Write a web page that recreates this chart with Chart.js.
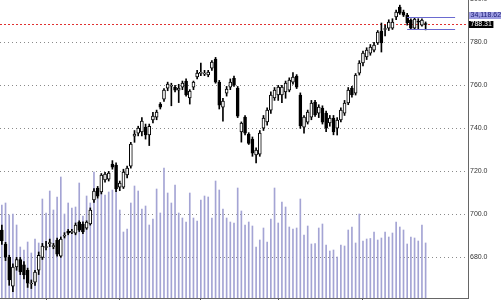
<!DOCTYPE html>
<html>
<head>
<meta charset="utf-8">
<script src="https://cdn.jsdelivr.net/npm/chart.js@4.4.1/dist/chart.umd.min.js"></script>
<style>
    html, body { margin: 0; padding: 0; background: #fff; }
    #wrap { width: 501px; height: 300px; position: relative; }
</style>
</head>
<body>
<div id="wrap"><canvas id="chart"></canvas></div>
<script>
    // ── Dados (OHLC diário + volume) ──
    const opens = [
        692.7, 686.2, 680.0, 666.6, 675.5, 679.0, 676.5, 674.0, 667.6, 668.5,
        674.0, 680.0, 684.6, 686.4, 685.0, 688.0, 680.6, 689.8, 692.2, 691.6,
        691.3, 696.4, 695.5, 693.6, 695.5, 706.7, 712.2, 710.4, 716.0, 716.4,
        723.4, 722.9, 712.7, 712.7, 718.3, 722.4, 736.4, 737.8, 738.3, 740.6,
        736.9, 743.9, 745.2, 751.3, 753.6, 758.7, 759.6, 759.2, 757.8, 759.2,
        762.0, 754.1, 759.2, 763.9, 765.6, 765.2, 764.8, 768.0, 772.2, 761.5,
        749.9, 756.4, 759.2, 763.3, 758.7, 738.4, 745.2, 737.3, 735.0, 727.6,
        728.0, 740.1, 743.0, 748.5, 754.1, 755.5, 755.5, 756.9, 757.8, 761.5,
        764.3, 755.5, 740.6, 742.9, 745.2, 752.2, 747.1, 749.4, 747.1, 742.5,
        744.8, 740.1, 743.9, 747.1, 751.8, 758.7, 756.4, 765.7, 770.4, 773.2,
        775.0, 776.4, 779.7, 785.3, 786.0, 786.6, 786.6, 791.8, 796.4, 794.1,
        792.7, 790.4, 786.6, 789.6, 788.0, 788.5
    ];
    const highs = [
        695.0, 687.0, 681.0, 677.0, 680.0, 680.0, 678.0, 675.0, 669.5, 674.0,
        682.5, 686.5, 687.5, 688.5, 686.5, 689.0, 689.5, 691.5, 693.0, 693.0,
        696.0, 697.0, 696.5, 697.0, 703.0, 712.0, 713.0, 719.0, 719.5, 720.0,
        725.0, 724.0, 715.5, 721.0, 722.5, 733.5, 739.0, 741.0, 745.0, 742.0,
        742.0, 747.5, 748.5, 752.0, 758.5, 761.5, 761.0, 760.0, 760.5, 762.0,
        763.0, 758.0, 762.0, 767.0, 770.4, 767.0, 767.0, 771.5, 773.0, 762.3,
        754.0, 759.5, 763.0, 764.3, 759.5, 743.0, 746.0, 738.0, 736.0, 731.0,
        739.0, 746.0, 749.5, 757.0, 759.0, 760.0, 760.0, 762.0, 763.5, 766.0,
        765.0, 756.5, 746.0, 748.5, 753.0, 753.0, 751.0, 750.5, 748.0, 746.0,
        746.0, 745.0, 749.5, 753.0, 759.0, 759.5, 765.5, 771.5, 776.0, 777.5,
        779.0, 780.0, 785.5, 789.0, 788.0, 790.5, 791.0, 795.0, 797.3, 795.0,
        793.5, 791.0, 791.5, 791.0, 791.0, 789.5
    ];
    const lows = [
        686.0, 678.5, 667.0, 664.0, 674.0, 672.0, 670.0, 666.0, 665.5, 667.0,
        672.0, 679.0, 683.5, 685.0, 684.0, 680.5, 680.0, 689.0, 690.5, 691.0,
        690.5, 692.0, 691.0, 693.0, 695.0, 705.5, 707.5, 709.5, 715.0, 715.5,
        721.0, 710.5, 711.0, 712.0, 717.0, 721.5, 733.5, 736.5, 736.5, 735.0,
        732.0, 742.5, 744.0, 749.0, 752.5, 757.5, 750.5, 757.0, 752.0, 758.0,
        755.0, 751.3, 758.0, 763.0, 764.5, 764.5, 764.0, 767.0, 761.0, 749.0,
        743.3, 755.0, 758.0, 759.5, 745.0, 733.6, 737.0, 732.5, 727.0, 723.9,
        727.0, 739.0, 741.5, 747.0, 753.0, 753.0, 752.0, 754.0, 757.0, 760.5,
        758.5, 740.0, 737.8, 742.0, 744.0, 745.5, 745.0, 742.0, 738.5, 741.0,
        737.0, 736.9, 743.0, 746.0, 751.0, 754.5, 755.5, 764.8, 769.0, 772.0,
        774.0, 775.5, 779.0, 775.5, 783.0, 785.5, 786.0, 790.5, 793.0, 792.0,
        788.0, 786.0, 786.0, 786.3, 787.5, 785.8
    ];
    const closes = [
        687.6, 680.1, 669.5, 675.5, 679.0, 673.2, 671.8, 668.0, 667.8, 673.2,
        681.0, 685.2, 684.9, 686.6, 685.3, 681.5, 688.5, 690.0, 691.3, 691.9,
        695.0, 692.7, 691.8, 696.4, 702.0, 710.8, 708.5, 718.3, 718.7, 719.2,
        722.0, 711.8, 714.5, 719.7, 721.5, 732.7, 737.3, 740.1, 743.4, 736.9,
        741.0, 745.7, 747.6, 749.9, 757.8, 760.6, 759.8, 757.8, 758.7, 761.1,
        755.5, 757.3, 761.5, 765.7, 765.8, 765.7, 766.2, 770.8, 761.5, 750.8,
        752.7, 758.3, 761.5, 760.1, 745.7, 742.5, 737.8, 733.0, 728.5, 729.9,
        737.8, 744.8, 748.5, 755.5, 757.8, 759.2, 759.2, 761.1, 762.5, 763.9,
        759.2, 741.1, 745.2, 747.6, 751.8, 746.2, 749.9, 742.9, 740.1, 744.8,
        738.3, 743.9, 748.5, 751.8, 757.8, 755.5, 764.8, 770.4, 775.0, 776.4,
        777.8, 778.7, 784.8, 779.7, 786.3, 789.4, 789.4, 794.1, 793.6, 792.7,
        789.0, 786.6, 790.8, 789.4, 790.4, 788.31
    ];
    const volumes = [
        57660, 58900, 51460, 52100, 45260, 31620, 29760, 34720, 27900, 36580,
        34100, 61380, 52700, 66340, 54560, 62620, 75020, 52080, 58900, 55800,
        56420, 71300, 50840, 63240, 58900, 78120, 61380, 73160, 63860, 65720,
        66960, 78120, 54560, 40920, 42780, 58900, 69440, 66340, 55180, 57040,
        45260, 48980, 67580, 52700, 80600, 65100, 58900, 70060, 52700, 49600,
        47120, 65100, 49600, 47740, 60760, 63240, 62620, 49600, 72540, 66960,
        55180, 49600, 47120, 46500, 68200, 53940, 45260, 47120, 44640, 31620,
        35960, 43400, 34720, 48980, 68200, 46500, 59520, 56420, 44020, 42780,
        43400, 61380, 39060, 44640, 33480, 33800, 43400, 45880, 32860, 29140,
        29760, 25420, 32860, 32240, 42160, 44020, 34100, 52080, 35340, 36580,
        36900, 40920, 35960, 37200, 40920, 37820, 40300, 47120, 44020, 42160,
        33480, 37820, 37200, 35340, 45260, 34118.62
    ];
    const priceTicks = [680, 700, 720, 740, 760, 780, 800];
    const monthTicks = [12, 32, 54, 75, 98];   // início de cada mês
    const totalSlots = 127;                    // pregões + espaço vazio à direita
    const calloutHigh = 791.6;
    const calloutLow = 786.0;
    const calloutFrom = 110;
    const calloutTo = 123;

    const labels = [];
    for (let i = 0; i < totalSlots; i++) labels.push('D' + (i + 1));

    const bodies = opens.map((o, i) => [o, closes[i]]);
    const wicks = lows.map((l, i) => [l, highs[i]]);
    const bodyColors = opens.map((o, i) => closes[i] < o ? '#000000' : '#ffffff');

    const lastClose = closes[closes.length - 1];
    const lastVolume = volumes[volumes.length - 1];

    // ── Linhas e etiquetas da direita ──
    const overlay = {
        id: 'overlay',
        beforeDatasetsDraw(chart) {
            const { ctx, chartArea, scales: { y } } = chart;
            const py = Math.round(y.getPixelForValue(lastClose)) + 0.5;
            ctx.save();
            ctx.strokeStyle = '#e03030';
            ctx.lineWidth = 1;
            ctx.setLineDash([2, 2]);
            ctx.beginPath();
            ctx.moveTo(chartArea.left, py);
            ctx.lineTo(chartArea.right - 2, py);
            ctx.stroke();
            ctx.restore();
        },
        afterDatasetsDraw(chart) {
            const { ctx, scales: { x, y } } = chart;
            const x1 = x.getPixelForValue(calloutFrom);
            const x2 = x.getPixelForValue(calloutTo);
            ctx.save();
            ctx.strokeStyle = '#6a6ad0';
            ctx.lineWidth = 1;
            [calloutHigh, calloutLow].forEach(v => {
                const py = Math.round(y.getPixelForValue(v)) + 0.5;
                ctx.beginPath();
                ctx.moveTo(x1, py);
                ctx.lineTo(x2, py);
                ctx.stroke();
            });
            ctx.restore();
        },
        afterDraw(chart) {
            const { ctx, chartArea, scales: { y } } = chart;
            const left = chartArea.right + 1;
            const cy = Math.round(y.getPixelForValue(lastClose));
            ctx.save();
            ctx.font = '7px "Liberation Sans", Arial, sans-serif';
            ctx.textBaseline = 'middle';

            const volText = lastVolume.toLocaleString('en-US', { minimumFractionDigits: 2 });
            const vw = ctx.measureText(volText).width + 3;
            ctx.fillStyle = '#9c9ce0';
            ctx.fillRect(left, cy - 12, vw, 7);
            ctx.fillStyle = '#20207a';
            ctx.fillText(volText, left + 1.5, cy - 8.5);

            const pText = lastClose.toFixed(2);
            const pw = ctx.measureText(pText).width + 3;
            ctx.fillStyle = '#000';
            ctx.fillRect(left, cy - 3, pw, 7);
            ctx.fillStyle = '#fff';
            ctx.fillText(pText, left + 1.5, cy + 0.5);
            ctx.restore();
        }
    };

    new Chart(document.getElementById('chart'), {
        type: 'bar',
        data: {
            labels: labels,
            datasets: [
                {
                    label: 'Corpo',
                    data: bodies,
                    backgroundColor: bodyColors,
                    borderColor: '#000',
                    borderWidth: 1,
                    borderSkipped: false,
                    barThickness: 3,
                    minBarLength: 1,
                    grouped: false,
                    yAxisID: 'y',
                    order: 1
                },
                {
                    label: 'Pavio',
                    data: wicks,
                    backgroundColor: '#000',
                    barThickness: 1,
                    minBarLength: 1,
                    grouped: false,
                    yAxisID: 'y',
                    order: 2
                },
                {
                    label: 'Volume',
                    data: volumes,
                    backgroundColor: '#a4a4d4',
                    barThickness: 1,
                    grouped: false,
                    yAxisID: 'vol',
                    order: 3
                }
            ]
        },
        options: {
            responsive: true,
            maintainAspectRatio: false,
            animation: false,
            layout: { padding: 0 },
            plugins: { legend: { display: false }, tooltip: { enabled: false } },
            scales: {
                x: {
                    offset: true,
                    grid: {
                        offset: false,
                        drawOnChartArea: false,
                        drawTicks: true,
                        tickLength: 3,
                        color: ctx => monthTicks.includes(ctx.index) ? '#555' : 'rgba(0,0,0,0)'
                    },
                    border: { display: true, color: '#666', width: 1 },
                    ticks: { display: false, autoSkip: false },
                    afterFit: s => { s.height = 2; s.paddingLeft = 0; s.paddingRight = 0; }
                },
                y: {
                    position: 'right',
                    min: 661.1,
                    max: 799.7,
                    grid: { color: '#8a8a8a', drawTicks: false },
                    border: { display: true, color: '#666', width: 1, dash: [1, 3] },
                    ticks: {
                        includeBounds: false,
                        padding: 2,
                        color: '#333',
                        font: { size: 7, family: '"Liberation Sans", Arial, sans-serif' },
                        callback: v => Number(v).toFixed(1)
                    },
                    afterBuildTicks: s => { s.ticks = priceTicks.map(v => ({ value: v })); },
                    afterFit: s => { s.width = 33; s.paddingTop = 0; s.paddingBottom = 0; }
                },
                vol: {
                    display: false,
                    min: 0,
                    max: 184760
                }
            }
        },
        plugins: [overlay]
    });
</script>
</body>
</html>
